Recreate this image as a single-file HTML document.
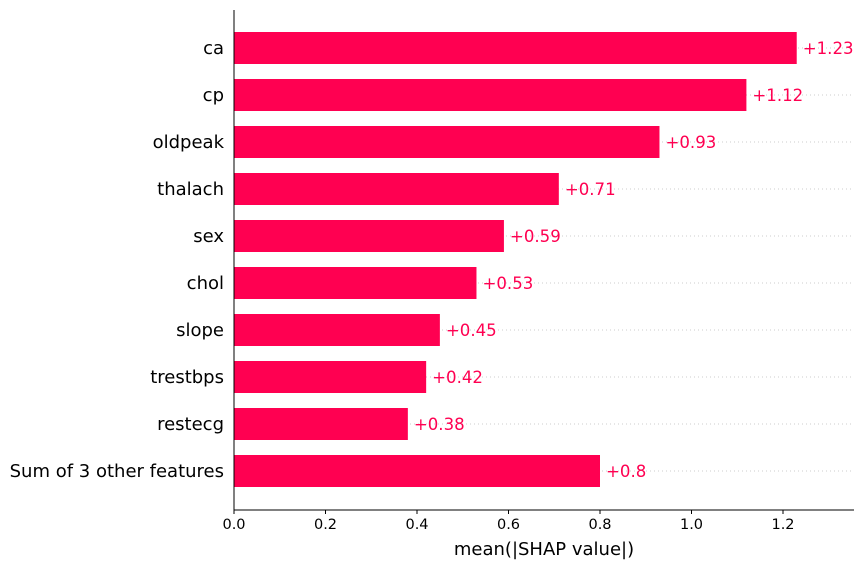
<!DOCTYPE html>
<html><head><meta charset="utf-8"><style>
body{margin:0;background:#fff;}
svg{display:block;font-family:"DejaVu Sans","Liberation Sans",sans-serif;}
</style></head><body>
<svg id="chart" width="864" height="568"></svg>
<script>
const features = ["ca","cp","oldpeak","thalach","sex","chol","slope","trestbps","restecg","Sum of 3 other features"];
const values = [1.23,1.12,0.93,0.71,0.59,0.53,0.45,0.42,0.38,0.8];
const valueLabels = ["+1.23","+1.12","+0.93","+0.71","+0.59","+0.53","+0.45","+0.42","+0.38","+0.8"];
const xTicks = [0,0.2,0.4,0.6,0.8,1.0,1.2];
const xTickLabels = ["0.0","0.2","0.4","0.6","0.8","1.0","1.2"];

const svg = document.getElementById('chart');
const NS = "http://www.w3.org/2000/svg";
const x0 = 234, xEnd = 854, pxPerUnit = 457.5;
const yTop = 10, yBottom = 510, rowStart = 48, rowStep = 47, barH = 32;
const xScale = v => x0 + v * pxPerUnit;
const yScale = i => rowStart + i * rowStep;
function mk(tag, attrs, text){
  const e = document.createElementNS(NS, tag);
  for (const k in attrs) e.setAttribute(k, attrs[k]);
  if (text !== undefined) e.textContent = text;
  svg.appendChild(e);
  return e;
}
features.forEach((f, i) => {
  const y = yScale(i);
  const g = mk('line', {x1: x0, x2: xEnd, y1: y, y2: y, stroke: '#cccccc', 'stroke-width': 1, 'stroke-dasharray': '1,3'});
  
  
});
features.forEach((f, i) => {
  const y = yScale(i);
  const b = mk('rect', {x: x0, y: y - barH/2, width: xScale(values[i]) - x0, height: barH, fill: '#ff0051'});
  
  
  const vl = mk('text', {x: xScale(values[i]) + 6, y: y + 6, fill: '#ff0051', 'font-size': 16.6}, valueLabels[i]);
  
  
  const fl = mk('text', {x: x0 - 10, y: y + 6, 'text-anchor': 'end', fill: '#000', 'font-size': 18}, f);
  
  
});
const ys = mk('line', {x1: x0, x2: x0, y1: yTop, y2: yBottom, stroke: '#000', 'stroke-width': 1});


const xs = mk('line', {x1: x0, x2: xEnd, y1: yBottom, y2: yBottom, stroke: '#000', 'stroke-width': 1});


xTicks.forEach((t, i) => {
  const x = xScale(t);
  const tk = mk('line', {x1: x, x2: x, y1: yBottom, y2: yBottom + 4, stroke: '#000', 'stroke-width': 1});
  
  
  const tl = mk('text', {x: x, y: yBottom + 19, 'text-anchor': 'middle', 'font-size': 14.5, fill: '#000'}, xTickLabels[i]);
  
  
});
const xt = mk('text', {x: 544, y: 555, 'text-anchor': 'middle', 'font-size': 18, fill: '#000'}, 'mean(|SHAP value|)');


</script>
</body></html>
